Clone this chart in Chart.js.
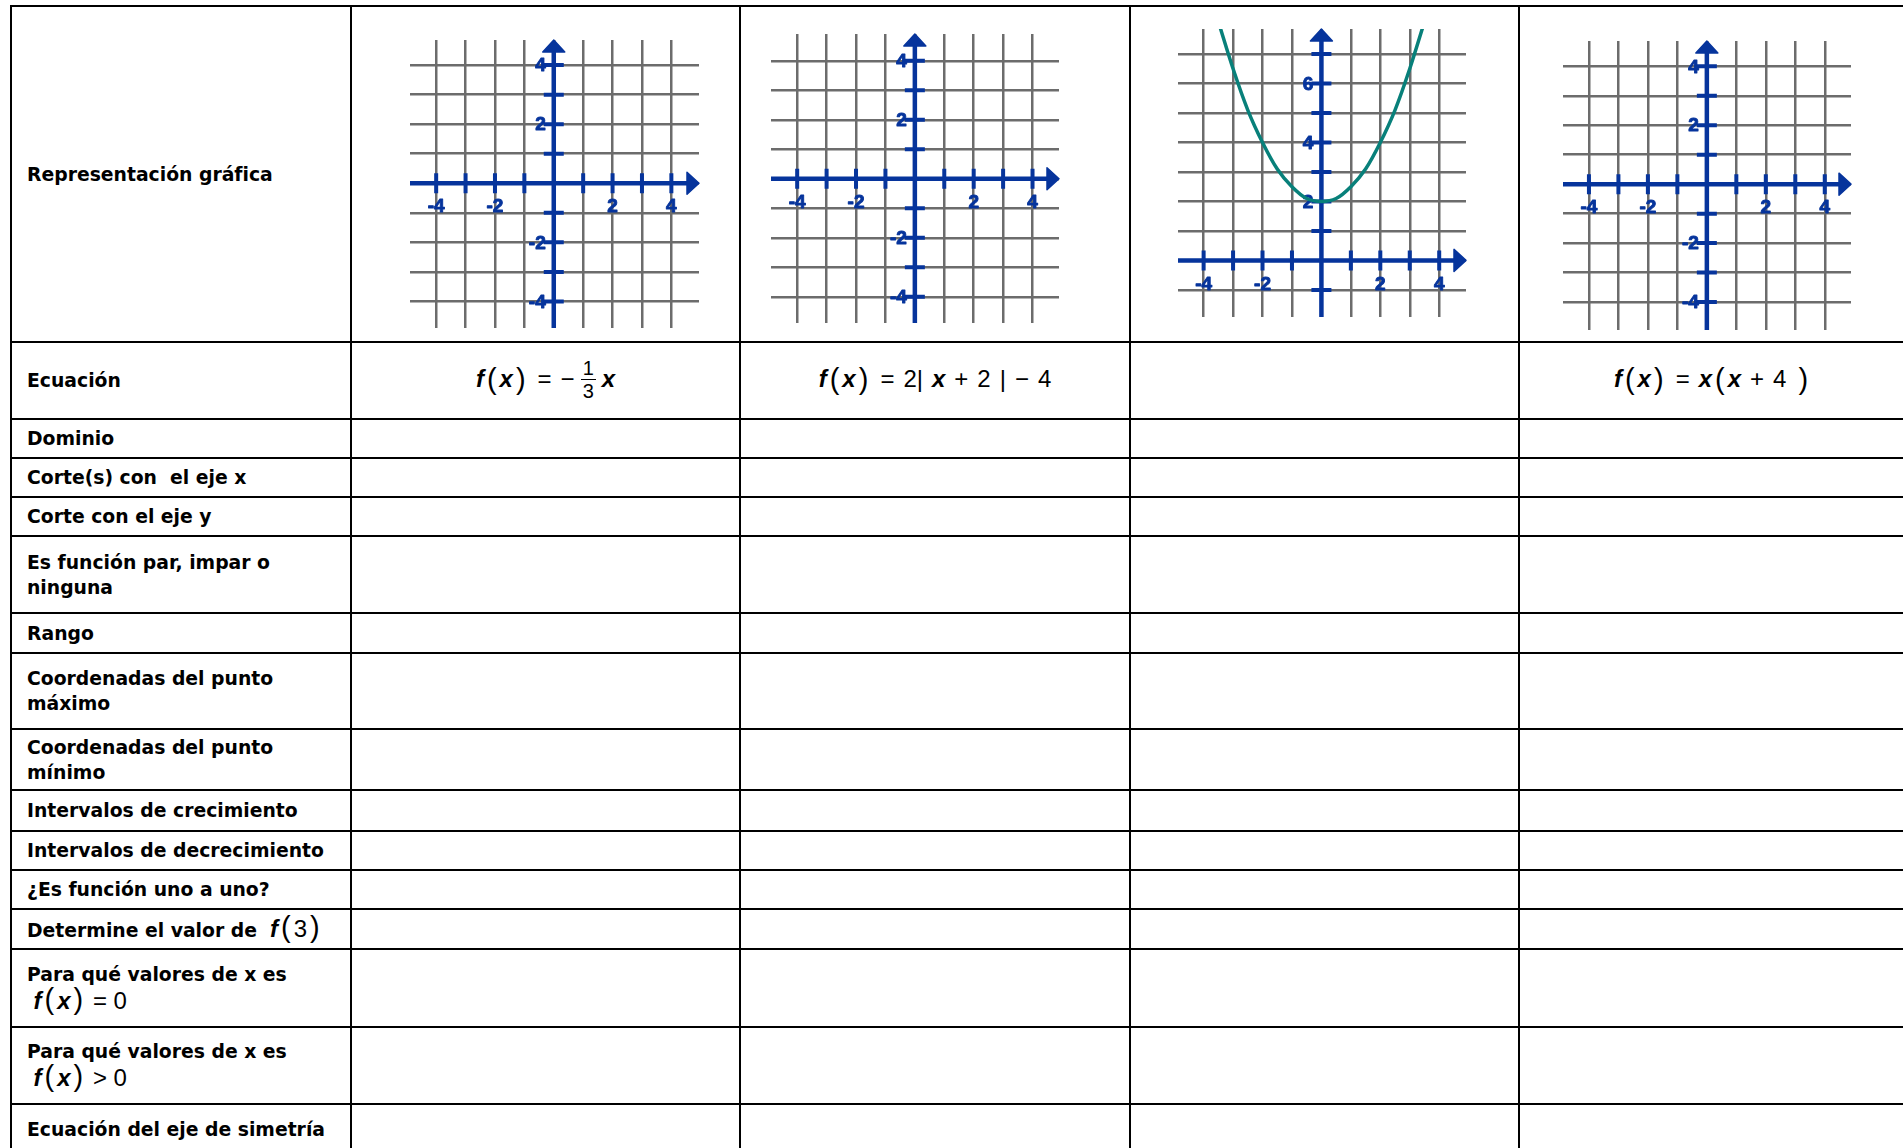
<!DOCTYPE html>
<html lang="es">
<head>
<meta charset="utf-8">
<title>Funciones</title>
<script src="https://cdn.jsdelivr.net/npm/chart.js@4.4.1/dist/chart.umd.min.js"></script>
<style>
  html, body { margin: 0; padding: 0; background: #fff; }
  body { width: 1903px; height: 1148px; overflow: hidden; position: relative; }
  .hline { position: absolute; height: 2px; background: #000; }
  .vline { position: absolute; width: 2px; background: #000; }
  .label {
    position: absolute; display: flex; align-items: center; box-sizing: border-box;
    padding-left: 15px; font: bold 18.8px "DejaVu Sans", Verdana, sans-serif;
    line-height: 25px; color: #000;
  }
  .eqcell {
    position: absolute; display: flex; align-items: center; justify-content: center;
    box-sizing: border-box; padding-bottom: 3px;
    font: 24px "Liberation Sans", Arial, sans-serif; color: #000;
  }
  .m { font: 24px "Liberation Sans", Arial, sans-serif; }
  .v { font-weight: bold; font-style: italic; }
  .pa { font-size: 29px; line-height: 20px; margin: 0 3px; }
  .sp { display: inline-block; width: 9px; }
  .frac {
    display: inline-flex; flex-direction: column; align-items: center;
    vertical-align: middle; font-size: 20px; line-height: 20px; margin: 0 6px;
  }
  .frac .num { border-bottom: 1.5px solid #000; padding: 0 2px 1px; }
  .frac .den { padding-top: 1px; }
  canvas { position: absolute; }
</style>
</head>
<body>
<script>
// row labels of the table
const rowLabels = [
  "Representación gráfica",
  "Ecuación",
  "Dominio",
  "Corte(s) con &nbsp;el eje x",
  "Corte con el eje y",
  "Es función par, impar o<br>ninguna",
  "Rango",
  "Coordenadas del punto<br>máximo",
  "Coordenadas del punto<br>mínimo",
  "Intervalos de crecimiento",
  "Intervalos de decrecimiento",
  "¿Es función uno a uno?",
  'Determine el valor de &nbsp;<span class="m"><span class="v">f</span><span class="pa">(</span>3<span class="pa">)</span></span>',
  'Para qué valores de x es<br>&nbsp;<span class="m"><span class="v">f</span><span class="pa">(</span><span class="v">x</span><span class="pa">)</span> = 0</span>',
  'Para qué valores de x es<br>&nbsp;<span class="m"><span class="v">f</span><span class="pa">(</span><span class="v">x</span><span class="pa">)</span> &gt; 0</span>',
  "Ecuación del eje de simetría"
];

// equations row (one per graph column)
const equations = [
  '<span class="v">f</span><span class="pa">(</span><span class="v">x</span><span class="pa">)</span><span class="sp"></span>=<span class="sp"></span>−<span class="frac"><span class="num">1</span><span class="den">3</span></span><span class="v">x</span>',
  '<span class="v">f</span><span class="pa">(</span><span class="v">x</span><span class="pa">)</span><span class="sp"></span>=<span class="sp"></span>2|<span class="sp"></span><span class="v">x</span><span class="sp"></span>+<span class="sp"></span>2<span class="sp"></span>|<span class="sp"></span>−<span class="sp"></span>4',
  '',
  '<span class="v">f</span><span class="pa">(</span><span class="v">x</span><span class="pa">)</span><span class="sp"></span>=<span class="sp"></span><span class="v">x</span><span class="pa">(</span><span class="v">x</span><span class="sp"></span>+<span class="sp"></span>4<span class="sp"></span><span class="pa">)</span>'
];

// axis ranges of the four graphs
const xRanges = [[-4.89, 4.94], [-4.89, 4.90], [-4.87, 4.91], [-4.88, 4.89]];
const yRanges = [[-4.90, 4.85], [-4.89, 4.91], [-1.92, 7.85], [-4.95, 4.86]];

// tick labels
const xLabelValues = [-4, -2, 2, 4];
const yLabelValues = [[-4, -2, 2, 4], [-4, -2, 2, 4], [2, 4, 6], [-4, -2, 2, 4]];

// parabola in the third graph
const curveX = [-3.5, -3, -2.5, -2, -1.5, -1, -0.5, 0, 0.5, 1, 1.5, 2, 2.5, 3, 3.5];
const curveY = [8.1, 6.5, 5.1, 4.0, 3.1, 2.5, 2.1, 2.0, 2.1, 2.5, 3.1, 4.0, 5.1, 6.5, 8.1];

// layout
const colX = [11, 351, 740, 1130, 1519, 1906];
const rowY = [6, 342, 419, 458, 497, 536, 613, 653, 729, 790, 831, 870, 909, 949, 1027, 1104, 1154];
const graphAreas = [
  [410, 40, 699, 328],
  [771, 34, 1059, 323],
  [1178, 29, 1466, 317],
  [1563, 41, 1851, 330]
];

const BLUE = "#06349c";
const TEAL = "#08807a";
const GRID = "#6c6c6c";

function add(cls, style, html) {
  const d = document.createElement("div");
  d.className = cls;
  Object.assign(d.style, style);
  if (html) d.innerHTML = html;
  document.body.appendChild(d);
  return d;
}

// table lines
rowY.forEach((y) => {
  add("hline", { left: colX[0] - 1 + "px", top: y - 1 + "px", width: 1910 - colX[0] + "px" });
});
colX.forEach((x) => {
  add("vline", { left: x - 1 + "px", top: rowY[0] - 1 + "px", height: 1200 - rowY[0] + "px" });
});

// row labels
rowLabels.forEach((txt, i) => {
  add("label", {
    left: colX[0] + 1 + "px", top: rowY[i] + 1 + "px",
    width: colX[1] - colX[0] - 2 + "px", height: rowY[i + 1] - rowY[i] - 2 + "px"
  }, "<div>" + txt + "</div>");
});

// equations
equations.forEach((eq, i) => {
  add("eqcell", {
    left: colX[i + 1] + 1 + "px", top: rowY[1] + 1 + "px",
    width: colX[i + 2] - colX[i + 1] - 2 + "px", height: rowY[2] - rowY[1] - 2 + "px"
  }, eq);
});

const axesPlugin = {
  id: "blueAxes",
  beforeDatasetsDraw(chart, args, opts) {
    const { ctx, chartArea: a } = chart;
    const x = chart.scales.x, y = chart.scales.y;
    const x0 = x.getPixelForValue(0);
    const y0 = y.getPixelForValue(0);
    ctx.save();
    ctx.strokeStyle = BLUE;
    ctx.fillStyle = BLUE;

    // axis lines
    ctx.lineWidth = 4.5;
    ctx.beginPath();
    ctx.moveTo(a.left, y0);
    ctx.lineTo(a.right - 8, y0);
    ctx.moveTo(x0, a.bottom);
    ctx.lineTo(x0, a.top + 8);
    ctx.stroke();

    // arrow heads
    ctx.lineJoin = "round";
    ctx.lineWidth = 1.5;
    ctx.beginPath();
    ctx.moveTo(a.right, y0);
    ctx.lineTo(a.right - 12, y0 - 11);
    ctx.lineTo(a.right - 12, y0 + 11);
    ctx.closePath();
    ctx.moveTo(x0, a.top);
    ctx.lineTo(x0 - 11, a.top + 12);
    ctx.lineTo(x0 + 11, a.top + 12);
    ctx.closePath();
    ctx.fill();
    ctx.stroke();

    // tick marks
    ctx.lineWidth = 4;
    ctx.beginPath();
    x.ticks.forEach((t) => {
      if (t.value === 0) return;
      const px = x.getPixelForValue(t.value);
      ctx.moveTo(px, y0 - 10);
      ctx.lineTo(px, y0 + 10);
    });
    y.ticks.forEach((t) => {
      if (t.value === 0) return;
      const py = y.getPixelForValue(t.value);
      ctx.moveTo(x0 - 10, py);
      ctx.lineTo(x0 + 10, py);
    });
    ctx.stroke();

    // tick labels (slightly stroked to get the heavy look)
    ctx.font = 'bold 19px "Liberation Sans", Arial, sans-serif';
    ctx.lineWidth = 0.9;
    ctx.textBaseline = "middle";
    ctx.textAlign = "center";
    opts.xLabels.forEach((v) => {
      const px = x.getPixelForValue(v);
      ctx.fillText(String(v), px, y0 + 24);
      ctx.strokeText(String(v), px, y0 + 24);
    });
    ctx.textAlign = "right";
    opts.yLabels.forEach((v) => {
      const py = y.getPixelForValue(v) + 1;
      ctx.fillText(String(v), x0 - 8, py);
      ctx.strokeText(String(v), x0 - 8, py);
    });
    ctx.restore();
  }
};

function makeGraph(i) {
  const left = colX[i + 1] + 1, right = colX[i + 2] - 1;
  const top = rowY[0] + 1, bottom = rowY[1] - 1;
  const canvas = document.createElement("canvas");
  canvas.width = right - left;
  canvas.height = bottom - top;
  canvas.style.left = left + "px";
  canvas.style.top = top + "px";
  document.body.appendChild(canvas);

  const area = graphAreas[i];
  const datasets = [];
  if (i === 2) {
    datasets.push({
      data: curveX.map((v, k) => ({ x: v, y: curveY[k] })),
      showLine: true,
      borderColor: TEAL,
      borderWidth: 3.5,
      pointRadius: 0,
      cubicInterpolationMode: "monotone",
      fill: false
    });
  }

  const gridScale = (range, isX) => ({
    type: "linear",
    min: range[0],
    max: range[1],
    ticks: { display: false, stepSize: 1, includeBounds: false, maxTicksLimit: 20 },
    grid: { color: GRID, lineWidth: 2.5, drawTicks: false },
    border: { display: false },
    afterFit: (s) => { if (isX) s.height = 0; else s.width = 0; }
  });

  new Chart(canvas, {
    type: "scatter",
    data: { datasets: datasets },
    options: {
      responsive: false,
      animation: false,
      events: [],
      layout: {
        padding: {
          left: area[0] - left,
          top: area[1] - top,
          right: right - area[2],
          bottom: bottom - area[3]
        }
      },
      plugins: {
        legend: { display: false },
        tooltip: { enabled: false },
        blueAxes: { xLabels: xLabelValues, yLabels: yLabelValues[i] }
      },
      scales: {
        x: gridScale(xRanges[i], true),
        y: gridScale(yRanges[i], false)
      }
    },
    plugins: [axesPlugin]
  });
}

for (let i = 0; i < 4; i++) makeGraph(i);
</script>
</body>
</html>
